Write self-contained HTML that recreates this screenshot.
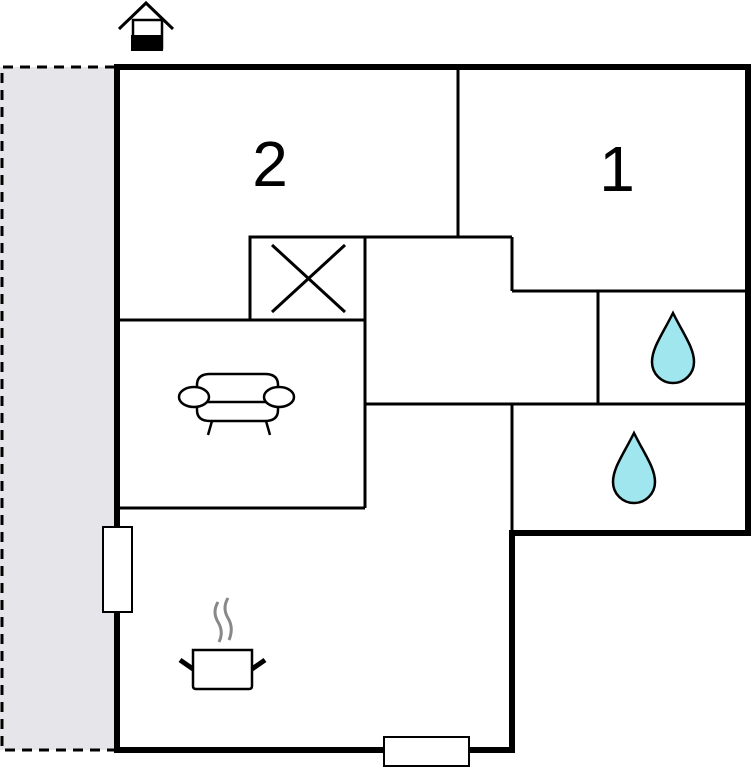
<!DOCTYPE html>
<html><head><style>html,body{margin:0;padding:0;background:#fff}</style></head><body>
<svg width="751" height="768" viewBox="0 0 751 768" xmlns="http://www.w3.org/2000/svg">
<rect x="0" y="67" width="115" height="683" fill="#e6e6ea"/>
<path d="M115 67 H2 V750 H115" fill="none" stroke="#000" stroke-width="3" stroke-dasharray="10,7"/>
<g fill="none" stroke="#000" stroke-width="3">
<line x1="458" y1="67" x2="458" y2="237"/>
<line x1="250" y1="237" x2="512" y2="237"/>
<line x1="512" y1="237" x2="512" y2="291"/>
<line x1="512" y1="291" x2="748" y2="291"/>
<line x1="598" y1="291" x2="598" y2="404"/>
<line x1="365" y1="404" x2="748" y2="404"/>
<line x1="512" y1="404" x2="512" y2="533"/>
<rect x="250" y="237" width="115" height="83"/>
<line x1="272" y1="245" x2="345" y2="312"/>
<line x1="345" y1="245" x2="272" y2="312"/>
<line x1="117" y1="320" x2="365" y2="320"/>
<line x1="365" y1="237" x2="365" y2="508"/>
<line x1="117" y1="508" x2="365" y2="508"/>
</g>
<path d="M117 67 H748 V533 H512 V750 H117 Z" fill="none" stroke="#000" stroke-width="6"/>
<rect x="103" y="527" width="29" height="85" fill="#fff" stroke="#000" stroke-width="2"/>
<rect x="384" y="737" width="85" height="29" fill="#fff" stroke="#000" stroke-width="2"/>
<g font-family="Liberation Sans, sans-serif" font-size="64" text-anchor="middle" fill="#000">
<text x="270" y="186">2</text><text x="617" y="191">1</text></g>
<g fill="#9fe6ee" stroke="#000" stroke-width="2.5">
<path d="M673 313 C662 335 652 348 652 362 A21 21 0 0 0 694 362 C694 348 684 335 673 313 Z"/>
<path d="M634 433 C623 455 613 468 613 482 A21 21 0 0 0 655 482 C655 468 645 455 634 433 Z"/>
</g>
<g stroke="#000" fill="none" stroke-width="3">
<path d="M119 29 L146 3 L173 29"/>
<rect x="133" y="20" width="29" height="28" stroke-width="2.5"/>
</g>
<rect x="131" y="35" width="32" height="16" fill="#000"/>
<g fill="#fff" stroke="#000" stroke-width="2.5">
<path d="M197 394 V385 Q197 374 210 374 H265 Q278 374 278 385 V394"/>
<path d="M197 403 V410 Q197 421 210 421 H265 Q278 421 278 410 V403"/>
<line x1="207" y1="402" x2="268" y2="402"/>
<ellipse cx="194" cy="397" rx="15" ry="10"/>
<ellipse cx="279" cy="397" rx="15" ry="10"/>
<line x1="212" y1="421" x2="208" y2="435"/>
<line x1="266" y1="421" x2="270" y2="435"/>
</g>
<g fill="none">
<path d="M218 602 Q212 612 218 622 Q224 632 219 642" stroke="#888" stroke-width="3"/>
<path d="M228 598 Q222 608 228 618 Q234 628 229 640" stroke="#888" stroke-width="3"/>
<path d="M193 650 H252 V686 Q252 689 249 689 H196 Q193 689 193 686 Z" stroke="#000" stroke-width="2.5" fill="#fff"/>
<line x1="180" y1="660" x2="193" y2="669" stroke="#000" stroke-width="5"/>
<line x1="265" y1="660" x2="252" y2="669" stroke="#000" stroke-width="5"/>
</g>
</svg>
</body></html>
